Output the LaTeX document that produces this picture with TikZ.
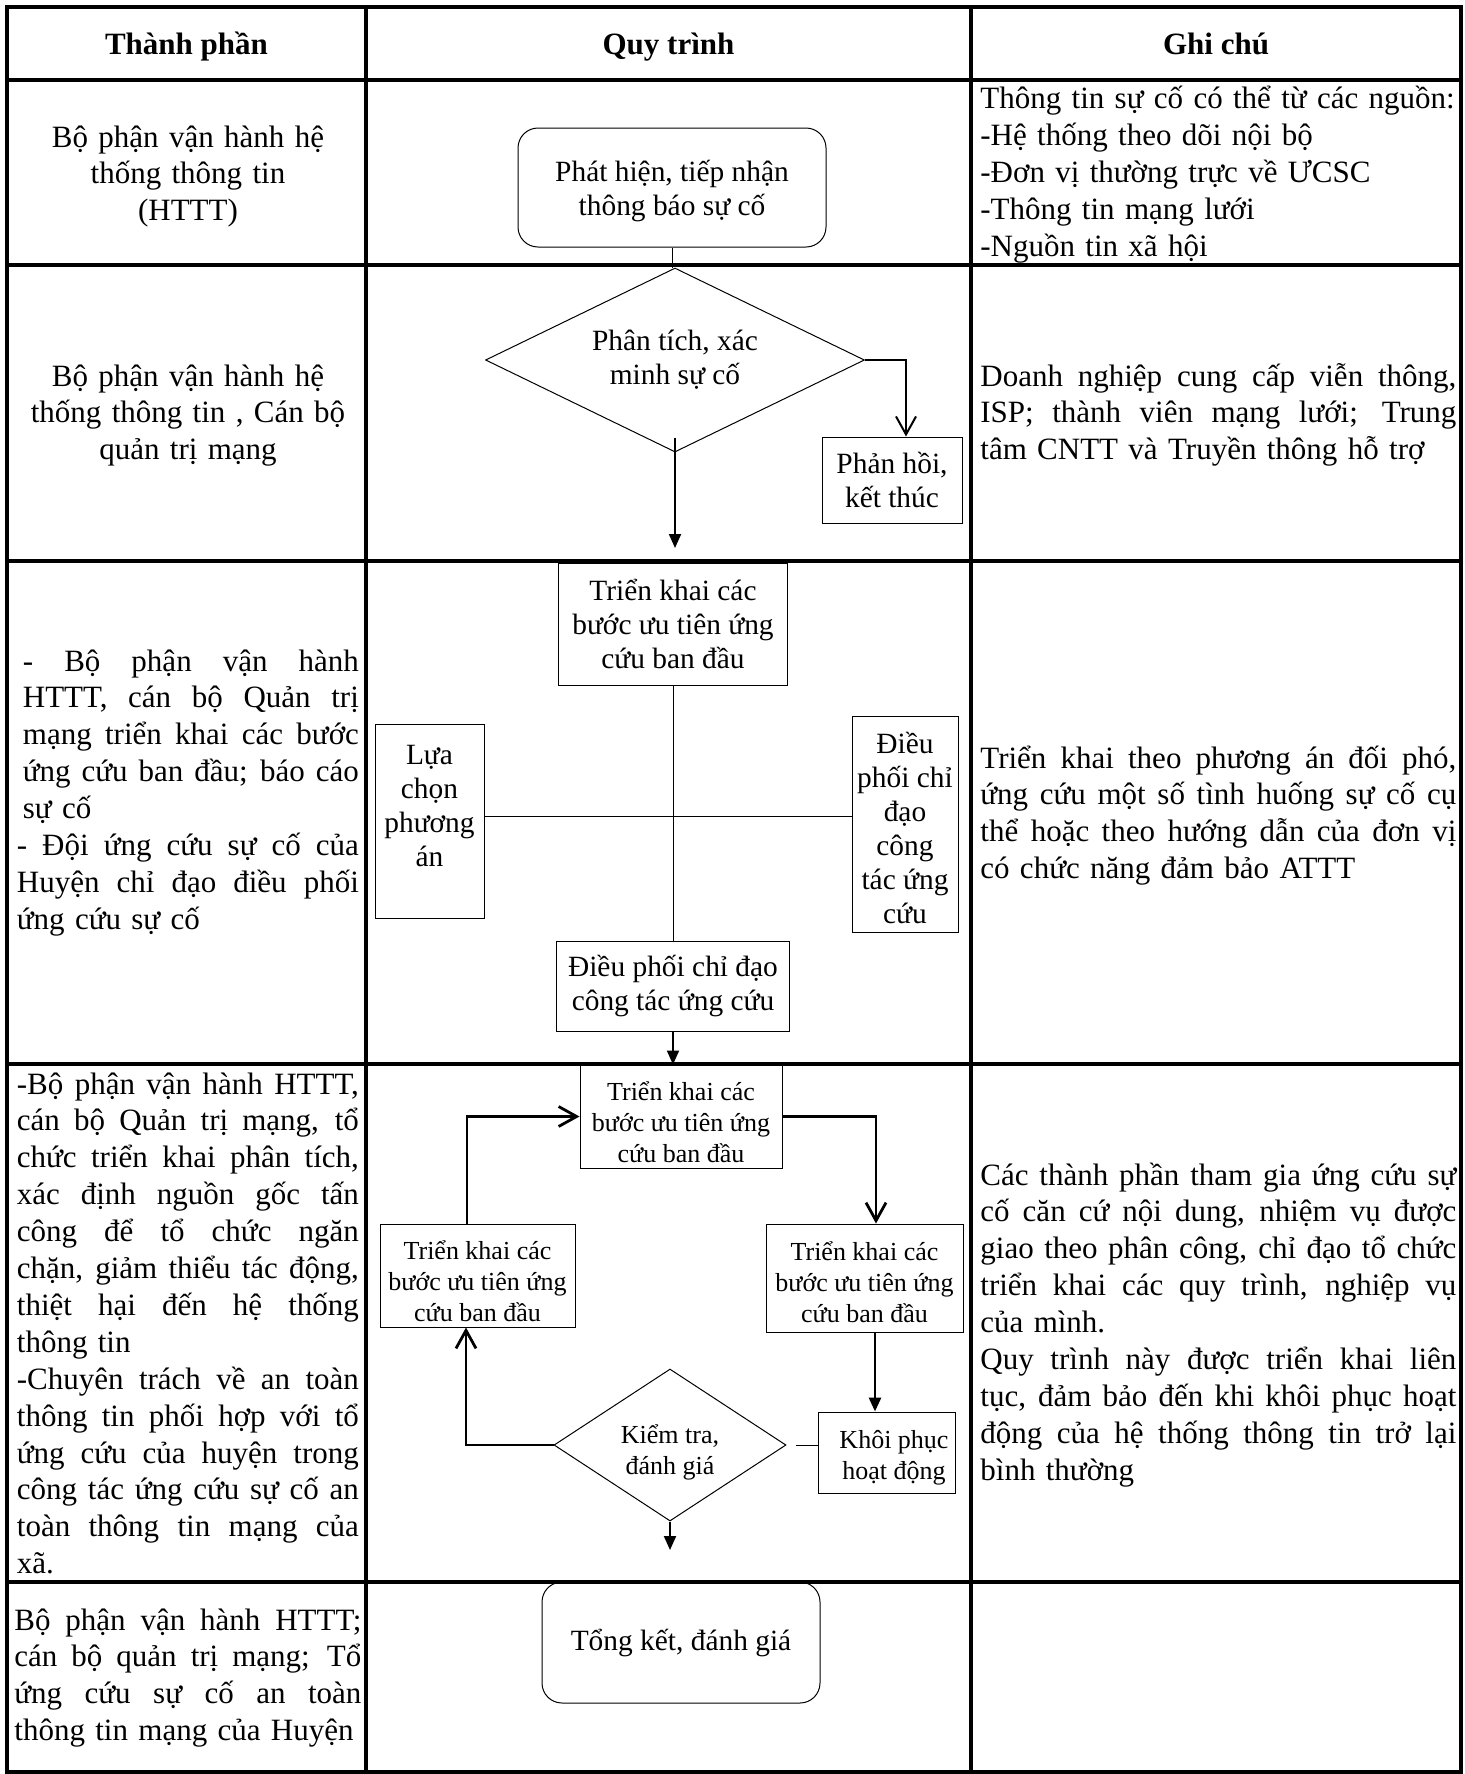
\documentclass[tikz,border=0pt]{standalone}
\usepackage{fontspec}
\setmainfont{Liberation Serif}
\usetikzlibrary{arrows.meta,shapes.geometric}
\newcommand\fA{\fontsize{15.5pt}{18.45pt}\selectfont}
\newcommand\fB{\fontsize{14.7pt}{17pt}\selectfont}
\newcommand\fC{\fontsize{13pt}{15.5pt}\selectfont}
\newcommand\J[2]{\leavevmode\hbox to #1{\spaceskip=.25em plus 1fil minus .1em\relax\xspaceskip=\spaceskip #2}}
\newcommand\ja[1]{\J{171pt}{#1}}
\newcommand\jb[1]{\J{168pt}{#1}}
\newcommand\jc[1]{\J{238pt}{#1}}
\newcommand\jd[1]{\J{173.5pt}{#1}}
\newcommand\ML[1]{\mbox{#1}}
\begin{document}
\begin{tikzpicture}[x=0.5pt,y=-0.5pt,
  tbl/.style={line width=1.6pt},
  box/.style={draw, line width=0.5pt, inner sep=0pt, align=center, font=\fB},
  rbox/.style={box, rounded corners=10pt},
  dia/.style={draw, diamond, inner sep=0pt, line width=0.5pt},
  lbl/.style={inner sep=0pt, align=center},
  para/.style={anchor=base west, inner sep=0pt, align=left, font=\fA},
  cpara/.style={anchor=base, inner sep=0pt, align=center, font=\fA, text width=171pt},
  hd/.style={anchor=base, inner sep=0pt, font=\fA\bfseries},
  thinl/.style={line width=0.5pt},
  medl/.style={line width=1pt},
  thkl/.style={line width=1.4pt},
  farr/.style={-{Triangle[length=7pt,width=6pt]}},
  varr/.style={-{Straight Barb[length=9pt,width=10pt]}},
]
\useasboundingbox (0,0) rectangle (1464,1774);
% table grid
\draw[tbl] (7,7) rectangle (1461,1772);
\foreach \yy in {80,265,561,1064,1582} \draw[tbl] (7,\yy) -- (1461,\yy);
\foreach \xx in {366,971} \draw[tbl] (\xx,7) -- (\xx,1772);

% headers
\node[hd] (h1) at (186.5,54) {Thành phần};
\node[hd] (h2) at (668.5,54) {Quy trình};
\node[hd] (h3) at (1216,54) {Ghi chú};

% row 1
\node[cpara] (c1) at (188,147) {Bộ phận vận hành hệ\\thống thông tin\\(HTTT)};
\node[rbox, minimum width=154pt, minimum height=59.5pt] (r1) at (672,187.5) {};
\node[lbl, font=\fB] (r1t) at (672,191.5) {Phát hiện, tiếp nhận\\thông báo sự cố};
\node[para, text width=240pt] (n1) at (980,108.6) {\ML{Thông tin sự cố có thể từ các nguồn:}\\\ML{-Hệ thống theo dõi nội bộ}\\\ML{-Đơn vị thường trực về ƯCSC}\\\ML{-Thông tin mạng lưới}\\\ML{-Nguồn tin xã hội}};

% row 2
\node[cpara] (c2) at (188,386) {Bộ phận vận hành hệ\\thống thông tin , Cán bộ\\quản trị mạng};
\node[dia, minimum width=189.5pt, minimum height=92pt] (d1) at (675,360) {};
\node[lbl, font=\fB] (d1t) at (675,360) {Phân tích, xác\\minh sự cố};
\node[box, minimum width=70pt, minimum height=43pt] (pb) at (892,480) {Phản hồi,\\kết thúc};
\node[para, text width=238pt] (n2) at (980,386) {\jc{Doanh nghiệp cung cấp viễn thông,}\\\jc{ISP; thành viên mạng lưới; Trung}\\\ML{tâm CNTT và Truyền thông hỗ trợ}};

% row 3
\node[para, text width=171pt] (c3) at (16.5,671) {\hspace*{3pt}\jb{- Bộ phận vận hành}\\\hspace*{3pt}\jb{HTTT, cán bộ Quản trị}\\\hspace*{3pt}\jb{mạng triển khai các bước}\\\hspace*{3pt}\jb{ứng cứu ban đầu; báo cáo}\\\hspace*{3pt}\ML{sự cố}\\\ja{- Đội ứng cứu sự cố của}\\\ja{Huyện chỉ đạo điều phối}\\\ML{ứng cứu sự cố}};
\node[box, minimum width=114.5pt, minimum height=61pt] (b3t) at (673,624) {Triển khai các\\bước ưu tiên ứng\\cứu ban đầu};
\node[box, minimum width=116.5pt, minimum height=45pt] (b3b) at (673,986) {Điều phối chỉ đạo\\công tác ứng cứu};
\node[box, minimum width=54.5pt, minimum height=97pt] (b3l) at (429.5,821) {};
\node[lbl, font=\fB] (b3lt) at (429.5,806) {Lựa\\chọn\\phương\\án};
\node[box, minimum width=53pt, minimum height=108pt] (b3r) at (905,824) {};
\node[lbl, font=\fB] (b3rt) at (905,828) {Điều\\phối chỉ\\đạo\\công\\tác ứng\\cứu};
\node[para, text width=238pt] (n3) at (980,768) {\jc{Triển khai theo phương án đối phó,}\\\jc{ứng cứu một số tình huống sự cố cụ}\\\jc{thể hoặc theo hướng dẫn của đơn vị}\\\ML{có chức năng đảm bảo ATTT}};

% row 4
\node[para, text width=171pt] (c4) at (16.5,1094) {\ja{-Bộ phận vận hành HTTT,}\\\ja{cán bộ Quản trị mạng, tổ}\\\ja{chức triển khai phân tích,}\\\ja{xác định nguồn gốc tấn}\\\ja{công để tổ chức ngăn}\\\ja{chặn, giảm thiểu tác động,}\\\ja{thiệt hại đến hệ thống}\\\ML{thông tin}\\\ja{-Chuyên trách về an toàn}\\\ja{thông tin phối hợp với tổ}\\\ja{ứng cứu của huyện trong}\\\ja{công tác ứng cứu sự cố an}\\\ja{toàn thông tin mạng của}\\\ML{xã.}};
\node[box, minimum width=101pt, minimum height=51.5pt] (b4t) at (681,1116.5) {};
\node[lbl, font=\fC] (b4tt) at (681,1122) {Triển khai các\\bước ưu tiên ứng\\cứu ban đầu};
\node[box, minimum width=97.5pt, minimum height=51.5pt] (b4l) at (477.5,1275.5) {};
\node[lbl, font=\fC] (b4lt) at (477.5,1281.5) {Triển khai các\\bước ưu tiên ứng\\cứu ban đầu};
\node[box, minimum width=98.5pt, minimum height=54pt] (b4r) at (864.5,1278) {};
\node[lbl, font=\fC] (b4rt) at (864.5,1282) {Triển khai các\\bước ưu tiên ứng\\cứu ban đầu};
\node[dia, minimum width=116pt, minimum height=76pt] (d4) at (670,1445) {};
\node[lbl, font=\fC] (d4t) at (670,1452) {Kiểm tra,\\đánh giá};
\node[box, minimum width=68.5pt, minimum height=40.5pt] (kp) at (886.5,1452.5) {};
\node[lbl, font=\fC] (kpt) at (894,1457.5) {Khôi phục\\hoạt động};
\node[para, text width=238pt] (n4) at (980,1185) {\jc{Các thành phần tham gia ứng cứu sự}\\\jc{cố căn cứ nội dung, nhiệm vụ được}\\\jc{giao theo phân công, chỉ đạo tổ chức}\\\jc{triển khai các quy trình, nghiệp vụ}\\\ML{của mình.}\\\jc{Quy trình này được triển khai liên}\\\jc{tục, đảm bảo đến khi khôi phục hoạt}\\\jc{động của hệ thống thông tin trở lại}\\\ML{bình thường}};

% row 5
\node[para, text width=174pt] (c5) at (14,1630) {\jd{Bộ phận vận hành HTTT;}\\\jd{cán bộ quản trị mạng; Tổ}\\\jd{ứng cứu sự cố an toàn}\\\ML{thông tin mạng của Huyện}};
\node[rbox, minimum width=139pt, minimum height=60.5pt] (r5) at (681,1642.5) {Tổng kết, đánh giá};

% connectors
\draw[thinl] (r1.south) -- (r1.south |- d1.north);
\draw[medl,varr] (d1.east) -| ([xshift=7pt]pb.north);
\coordinate (e1) at (675,548);
\draw[medl,farr] ([yshift=7.5pt]d1.south) -- (e1);
\draw[thinl] (b3t.south) -- (b3b.north);
\draw[thinl] ([yshift=2.5pt]b3l.east) -- ([yshift=2.5pt]b3l.east -| b3r.west);
\draw[medl,farr] (b3b.south) -- (b3b.south |- b4t.north);
\draw[thkl,varr] (b4t.east) -| ([xshift=5.75pt]b4r.north);
\draw[thkl,farr] ([xshift=5.25pt]b4r.south) -- ([xshift=5.25pt]b4r.south |- kp.north);
\draw[thinl] ([xshift=4.5pt]d4.east) -- (d4.east -| kp.west);
\draw[thkl,varr] (d4.west) -| ([xshift=-5.75pt]b4l.south);
\draw[thkl,varr] ([xshift=-5.25pt]b4l.north) |- (b4t.west);
\coordinate (e4) at (670,1550);
\draw[medl,farr] (d4.south) -- (e4);
\end{tikzpicture}
\end{document}
